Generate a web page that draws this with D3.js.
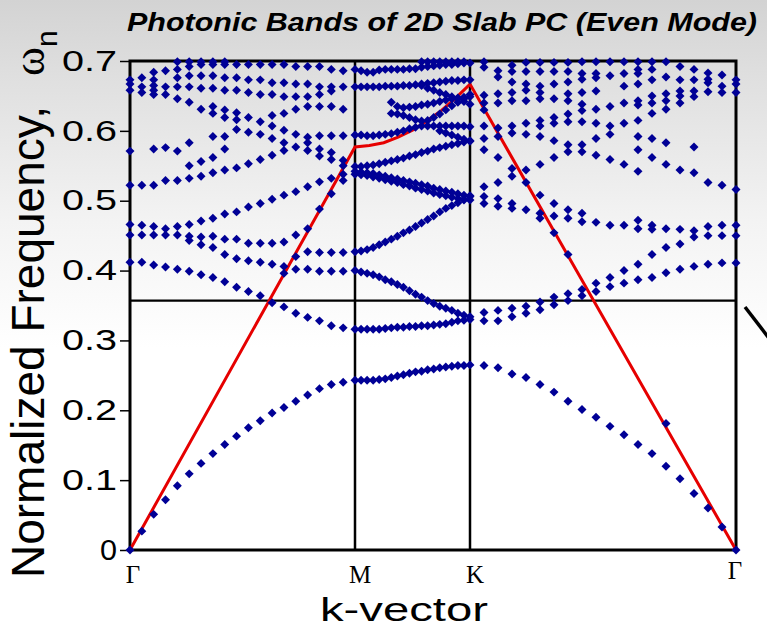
<!DOCTYPE html>
<html>
<head>
<meta charset="utf-8">
<script src="https://cdn.jsdelivr.net/npm/d3@7"></script>
<style>
  body { margin: 0; background: #fff; }
  svg { display: block; }
</style>
</head>
<body>
<div id="chart"></div>
<script>
// Photonic band diagram, Gamma-M-K-Gamma path

const kLabels = ['Γ', 'M', 'K', 'Γ'];
const yTicks = [0, 0.1, 0.2, 0.3, 0.4, 0.5, 0.6, 0.7];
const lightLineCut = 0.357;

// light line read along the path (position in segments, frequency)
const lightK = [0, 1, 1.125, 1.25, 1.375, 1.5, 1.625, 1.75, 1.875, 2, 3];
const lightW = [0, 0.577, 0.579, 0.583, 0.591, 0.601, 0.614, 0.629, 0.647, 0.667, 0];

// Gamma -> M : one list of frequencies per k-point (19 points, M itself is in mkBands)
const gmColumns = [
  [0, .412, .451, .466, .522, .571, .658, .667, .673],
  [.027, .412, .451, .465, .522, .655, .663, .676],
  [.051, .408, .451, .463, .522, .574, .652, .658, .665, .673, .684],
  [.072, .405, .451, .460, .529, .576, .652, .663, .686],
  [.092, .402, .451, .463, .529, .571, .646, .663, .676, .688, .699],
  [.109, .399, .443, .449, .466, .532, .550, .583, .641, .663, .679, .692, .699],
  [.124, .394, .437, .448, .471, .535, .556, .631, .661, .679, .695, .699],
  [.138, .390, .433, .449, .475, .540, .562, .592, .625, .635, .661, .679, .695, .699],
  [.151, .384, .423, .445, .481, .544, .574, .592, .619, .630, .658, .676, .695, .699],
  [.163, .376, .417, .445, .484, .547, .602, .616, .626, .658, .676, .695],
  [.175, .370, .414, .439, .491, .553, .598, .619, .655, .673, .695],
  [.185, .364, .412, .439, .496, .559, .595, .613, .652, .673, .695],
  [.196, .354, .409, .439, .502, .565, .589, .607, .622, .652, .669, .695],
  [.204, .348, .396, .406, .441, .508, .572, .583, .601, .625, .649, .669, .695],
  [.213, .339, .402, .420, .451, .513, .577, .595, .631, .649, .667, .692],
  [.222, .333, .402, .427, .460, .520, .572, .583, .591, .635, .649, .667, .692],
  [.231, .328, .399, .426, .488, .527, .564, .574, .593, .635, .652, .663, .692],
  [.237, .321, .399, .426, .510, .532, .559, .569, .593, .635, .657, .663, .688],
  [.240, .318, .399, .426, .529, .538, .550, .558, .593, .631, .663, .686]
];

// M -> K : bands, 20 k-points each (M and K included), null = not shown
const mkBands = [
  [.243, .243, .243, .243, .244, .245, .247, .249, .251, .253, .255, .256, .258, .259, .261, .262, .263, .264, .264, .265],
  [.316, .316, .316, .316, .316, .317, .318, .319, .319, .320, .320, .321, .321, .322, .323, .324, .326, .328, .329, .330],
  [.400, .398, .396, .394, .391, .387, .384, .380, .376, .371, .366, .362, .357, .353, .349, .346, .343, .339, .336, .334],
  [.427, .428, .430, .433, .437, .441, .445, .449, .454, .458, .463, .468, .473, .478, .484, .489, .493, .497, .501, .506],
  [.538, .537, .536, .534, .532, .530, .528, .526, .523, .521, .518, .516, .514, .511, .509, .507, .505, .503, .502, .501],
  [.542, .541, .540, .539, .537, .535, .533, .531, .529, .527, .525, .523, .521, .518, .516, .514, .512, .510, .508, .507],
  [.549, .549, .550, .551, .553, .555, .557, .559, .561, .564, .566, .569, .571, .574, .576, .578, .580, .582, .584, .585],
  [.594, .594, .593, .593, .594, .595, .596, .598, .600, .603, .605, .607, .607, .607, .607, .607, .607, .607, .607, .606],
  [null, null, null, null, null, null, null, null, null, null, null, null, null, null, .600, .597, .594, .591, .588, .586],
  [null, null, null, null, null, null, .625, .624, .622, .619, .616, .614, .615, .619, .624, .630, .636, .641, .646, .652],
  [null, null, null, null, null, null, .641, .635, .633, .634, .635, .637, .638, .640, .642, .644, .646, .647, .648, .649],
  [null, null, null, null, null, null, null, null, null, null, null, .665, .661, .658, .655, .652, .649, .646, .642, .638],
  [.663, .663, .663, .663, .663, .664, .664, .664, .665, .665, .666, .667, .668, .669, .670, .671, .672, .672, .673, .673],
  [.688, .686, .684, .684, .687, .688, .688, .688, .688, .689, .689, .691, .692, .693, .694, .695, .695, .696, .697, .697],
  [null, null, null, null, null, null, null, null, null, null, null, .699, .699, .699, .699, .699, .699, .699, .699, null]
];

// K -> Gamma : one list per k-point after K (19 points, last one is Gamma)
const kgColumns = [
  [.264, .328, .340, .496, .506, .520, .573, .589, .607, .630, .640, .651, .691, .699],
  [.261, .328, .343, .492, .503, .526, .562, .592, .604, .640, .653, .677, .686],
  [.252, .334, .346, .489, .496, .535, .546, .597, .607, .643, .655, .670, .685, .694],
  [.247, .339, .349, .487, .526, .544, .595, .611, .643, .658, .667, .685, .698],
  [.237, .344, .355, .475, .482, .508, .552, .592, .607, .615, .646, .655, .664, .685, .698],
  [.226, .351, .362, .454, .478, .496, .562, .586, .611, .619, .646, .667, .685, .698],
  [.213, .357, .367, .423, .475, .487, .570, .580, .613, .624, .643, .653, .670, .685, .698],
  [.201, .364, .373, .470, .482, .570, .580, .613, .629, .638, .655, .674, .682, .699],
  [.190, .370, .382, .469, .565, .589, .611, .631, .657, .676, .682, .699],
  [.177, .377, .390, .465, .559, .595, .607, .635, .679, .699],
  [.165, .382, .400, .465, .552, .611, .640, .664, .682, .699],
  [.151, .387, .409, .460, .472, .542, .573, .592, .615, .637, .643, .667, .682, .688, .699],
  [.138, .390, .423, .459, .465, .562, .589, .625, .640, .650, .673, .688, .699],
  [.120, .181, .397, .433, .460, .552, .583, .631, .643, .653, .677, .699],
  [.102, .402, .438, .459, .544, .640, .650, .657, .673, .692],
  [.081, .406, .448, .457, .540, .577, .649, .657, .673, .688],
  [.060, .409, .450, .463, .526, .656, .669, .674, .683],
  [.033, .411, .450, .465, .522, .655, .664, .680],
  [0, .411, .450, .465, .516, .655, .667, .673]
];

const W = 767, H = 632;
const nSeg = 19; // k-point intervals per segment

const svg = d3.select('#chart').append('svg')
  .attr('width', W)
  .attr('height', H);

// grey-to-white background
const grad = svg.append('defs').append('linearGradient')
  .attr('id', 'bg')
  .attr('x1', 0).attr('y1', 0).attr('x2', 0).attr('y2', 1);
grad.append('stop').attr('offset', '0%').attr('stop-color', '#d3d3d3');
grad.append('stop').attr('offset', '12%').attr('stop-color', '#dfdfdf');
grad.append('stop').attr('offset', '35%').attr('stop-color', '#f3f3f3');
grad.append('stop').attr('offset', '55%').attr('stop-color', '#ffffff');
svg.append('rect').attr('width', W).attr('height', H).attr('fill', 'url(#bg)');

// scales
const x = d3.scaleLinear().domain([0, 1, 2, 3]).range([130, 355, 470, 736]);
const y = d3.scaleLinear().domain([0, 0.7]).range([550, 61]);

// flatten the points
const pts = [];
gmColumns.forEach((col, i) => col.forEach(w => pts.push({ k: i / nSeg, w })));
mkBands.forEach(band => band.forEach((w, i) => {
  if (w != null) pts.push({ k: 1 + i / nSeg, w });
}));
kgColumns.forEach((col, j) => col.forEach(w => pts.push({ k: 2 + (j + 1) / nSeg, w })));

// frame, symmetry point lines and light-line cut
const g = svg.append('g');
g.append('rect')
  .attr('x', x(0)).attr('y', y(0.7))
  .attr('width', x(3) - x(0)).attr('height', y(0) - y(0.7))
  .attr('fill', 'none').attr('stroke', '#000').attr('stroke-width', 3);

g.selectAll('.kline')
  .data([1, 2])
  .enter().append('line')
  .attr('class', 'kline')
  .attr('x1', d => x(d)).attr('x2', d => x(d))
  .attr('y1', y(0.7)).attr('y2', y(0))
  .attr('stroke', '#000').attr('stroke-width', 2.5);

g.append('line')
  .attr('x1', x(0)).attr('x2', x(3))
  .attr('y1', y(lightLineCut)).attr('y2', y(lightLineCut))
  .attr('stroke', '#000').attr('stroke-width', 2.2);

// y axis
const yAxis = d3.axisLeft(y)
  .tickValues(yTicks)
  .tickSize(10)
  .tickPadding(3)
  .tickFormat(d => d === 0 ? '0' : d.toFixed(1));

const yAxisG = g.append('g')
  .attr('transform', `translate(${x(0)},0)`)
  .call(yAxis);
yAxisG.select('.domain').remove();
yAxisG.selectAll('.tick line').attr('stroke', '#000').attr('stroke-width', 1.5);
yAxisG.selectAll('.tick text')
  .attr('fill', '#000')
  .style('font-family', '"Liberation Sans", Arial, sans-serif')
  .style('font-size', '29px')
  .attr('textLength', d => d === 0 ? 17 : 55)
  .attr('lengthAdjust', 'spacingAndGlyphs');

// light line
const lightLine = d3.line()
  .x((d, i) => x(lightK[i]))
  .y(d => y(d));
g.append('path')
  .datum(lightW)
  .attr('d', lightLine)
  .attr('fill', 'none')
  .attr('stroke', '#e60000')
  .attr('stroke-width', 3);

// band points as diamonds
const diamond = d3.symbol().type(d3.symbolSquare).size(40);
g.selectAll('.band-pt')
  .data(pts)
  .enter().append('path')
  .attr('class', 'band-pt')
  .attr('d', diamond)
  .attr('transform', d => `translate(${x(d.k)},${y(d.w)}) rotate(45)`)
  .attr('fill', '#000096');

// k-point labels
const kLabelPos = [
  { k: 0, dx: 3, yy: 583 },
  { k: 1, dx: 5, yy: 583 },
  { k: 2, dx: 5, yy: 583 },
  { k: 3, dx: -1, yy: 579 }
];
svg.selectAll('.klabel')
  .data(kLabels)
  .enter().append('text')
  .attr('class', 'klabel')
  .attr('x', (d, i) => x(kLabelPos[i].k) + kLabelPos[i].dx)
  .attr('y', (d, i) => kLabelPos[i].yy)
  .attr('text-anchor', 'middle')
  .style('font-family', '"Liberation Serif", "Times New Roman", serif')
  .style('font-size', '25px')
  .text(d => d);

// axis titles
svg.append('text')
  .attr('x', 404).attr('y', 621)
  .attr('text-anchor', 'middle')
  .attr('textLength', 168)
  .attr('lengthAdjust', 'spacingAndGlyphs')
  .style('font-family', '"Liberation Sans", Arial, sans-serif')
  .style('font-size', '34px')
  .text('k-vector');

const yTitle = svg.append('text')
  .attr('transform', 'translate(44,578) rotate(-90)')
  .style('font-family', '"Liberation Sans", Arial, sans-serif')
  .style('font-size', '46px');
yTitle.append('tspan').text('Normalized Frequency,');
yTitle.append('tspan')
  .attr('dx', 30)
  .style('font-family', '"Liberation Serif", "Times New Roman", serif')
  .style('font-size', '44px')
  .text('ω');
yTitle.append('tspan')
  .attr('dy', 13)
  .style('font-size', '30px')
  .text('n');

// chart title
svg.append('text')
  .attr('x', 442).attr('y', 31)
  .attr('text-anchor', 'middle')
  .attr('textLength', 630)
  .attr('lengthAdjust', 'spacingAndGlyphs')
  .style('font-family', '"Liberation Sans", Arial, sans-serif')
  .style('font-size', '25px')
  .style('font-weight', 'bold')
  .style('font-style', 'italic')
  .text('Photonic Bands of 2D Slab PC (Even Mode)');

// stray stroke at the right edge
svg.append('line')
  .attr('x1', 745).attr('y1', 307)
  .attr('x2', 772).attr('y2', 342)
  .attr('stroke', '#000').attr('stroke-width', 3.5);
</script>
</body>
</html>
